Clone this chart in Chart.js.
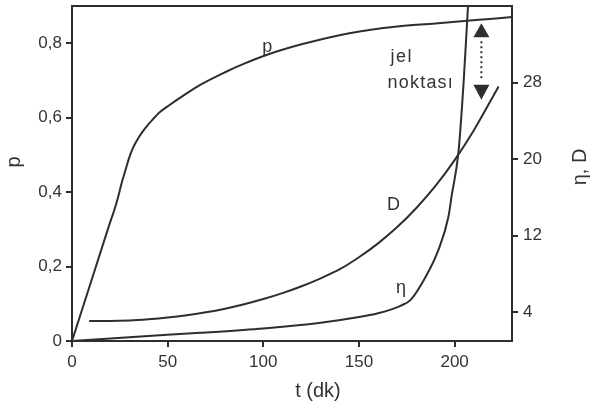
<!DOCTYPE html>
<html>
<head>
<meta charset="utf-8">
<script src="https://cdn.jsdelivr.net/npm/chart.js@4/dist/chart.umd.min.js"></script>
<style>
  html, body { margin: 0; padding: 0; background: #fff; }
  canvas { display: block; }
</style>
</head>
<body>
<canvas id="c" width="590" height="404"></canvas>
<script>
// Conversion p versus time t (dk)
const tP = [0, 5, 10, 15, 20, 22, 24, 26, 28, 30, 32, 35, 38, 42, 46, 51, 57, 67, 80, 90, 102, 120, 145, 170, 190, 205, 220, 231];
const pVals = [0, 0.08, 0.16, 0.24, 0.32, 0.35, 0.385, 0.425, 0.46, 0.494, 0.52, 0.548, 0.57, 0.594, 0.615, 0.634, 0.655, 0.688, 0.722, 0.745, 0.769, 0.797, 0.827, 0.845, 0.853, 0.86, 0.866, 0.871];

// D versus time (right axis)
const tD = [9, 20, 30, 40, 50, 60, 70, 80, 90, 100, 110, 120, 130, 140, 150, 160, 170, 180, 190, 200, 210, 223];
const dVals = [3.1, 3.1, 3.15, 3.28, 3.46, 3.7, 4.0, 4.38, 4.84, 5.38, 6.0, 6.72, 7.55, 8.5, 9.75, 11.2, 12.9, 14.9, 17.2, 19.9, 23.0, 27.6];

// Viscosity η versus time (right axis)
const tEta = [0, 30, 67, 100, 130, 150, 160, 167, 172, 177, 184, 191.5, 196.8, 198.4, 202, 204.7, 207];
const etaVals = [1.0, 1.4, 1.85, 2.3, 2.9, 3.5, 3.9, 4.3, 4.7, 5.3, 7.4, 10.5, 14.0, 16.1, 20.7, 28, 36];

// Tick labels
const xTicks = [0, 50, 100, 150, 200];
const pTicks = [0, 0.2, 0.4, 0.6, 0.8];
const rightTicks = [4, 12, 20, 28];

const INK = '#2e2e2e';
const TEXT = '#333333';
const FONT = '"Liberation Sans", Arial, sans-serif';

const toPoints = (xs, ys) => xs.map((x, i) => ({ x: x, y: ys[i] }));

// In-plot labels, positioned in data units
const curveLabels = [
  { text: 'p', x: 102, y: 0.79, axis: 'y', spacing: 0 },
  { text: 'D', x: 168, y: 15.2, axis: 'y2', spacing: 0 },
  { text: 'η', x: 172, y: 6.5, axis: 'y2', spacing: 0 },
  { text: 'jel', x: 172, y: 30.7, axis: 'y2', spacing: 1.5 },
  { text: 'noktası', x: 182, y: 27.9, axis: 'y2', spacing: 1.2 }
];

const lineStyle = {
  borderColor: INK,
  borderWidth: 2,
  pointRadius: 0,
  fill: false,
  cubicInterpolationMode: 'monotone'
};

const framePlugin = {
  id: 'frame',
  afterDraw(chart) {
    const ctx = chart.ctx;
    const a = chart.chartArea;
    const sx = chart.scales.x, sR = chart.scales.y2;
    ctx.save();
    // top edge of the frame
    ctx.strokeStyle = INK;
    ctx.lineWidth = 2;
    ctx.beginPath();
    ctx.moveTo(a.left - 1, a.top);
    ctx.lineTo(a.right + 1, a.top);
    ctx.stroke();

    // curve labels
    ctx.fillStyle = TEXT;
    ctx.textAlign = 'center';
    ctx.textBaseline = 'middle';
    ctx.font = '18px ' + FONT;
    curveLabels.forEach(l => {
      const sc = chart.scales[l.axis];
      ctx.letterSpacing = l.spacing + 'px';
      ctx.fillText(l.text, sx.getPixelForValue(l.x) + l.spacing / 2, sc.getPixelForValue(l.y));
    });
    ctx.letterSpacing = '0px';

    // gel point double arrow
    const ax = sx.getPixelForValue(214);
    const yTop = sR.getPixelForValue(34.2);
    const yBot = sR.getPixelForValue(26.2);
    ctx.fillStyle = INK;
    ctx.beginPath();
    ctx.moveTo(ax, yTop);
    ctx.lineTo(ax - 8, yTop + 14);
    ctx.lineTo(ax + 8, yTop + 14);
    ctx.closePath();
    ctx.fill();
    ctx.beginPath();
    ctx.moveTo(ax, yBot);
    ctx.lineTo(ax - 8, yBot - 15);
    ctx.lineTo(ax + 8, yBot - 15);
    ctx.closePath();
    ctx.fill();
    for (let y = yTop + 19; y <= yBot - 19; y += 5) {
      ctx.fillRect(ax - 1, y - 1, 2, 2);
    }

    // axis titles
    ctx.fillStyle = TEXT;
    ctx.font = '20px ' + FONT;
    ctx.fillText('t (dk)', 318, 391);
    ctx.save();
    ctx.translate(14, 162);
    ctx.rotate(-Math.PI / 2);
    ctx.fillText('p', 0, 0);
    ctx.restore();
    ctx.save();
    ctx.translate(580, 167);
    ctx.rotate(-Math.PI / 2);
    ctx.fillText('η, D', 0, 0);
    ctx.restore();
    ctx.restore();
  }
};

const tickFont = { family: FONT, size: 17 };
const axisGrid = { drawOnChartArea: false, drawTicks: true, tickLength: 6, color: INK, lineWidth: 2 };
const axisBorder = { display: true, color: INK, width: 2 };

// fixed axis band sizes, no extra label padding around the plot area
const fixBand = (prop, size) => s => {
  s[prop] = size;
  s.paddingTop = 0; s.paddingBottom = 0; s.paddingLeft = 0; s.paddingRight = 0;
};

new Chart(document.getElementById('c'), {
  type: 'line',
  data: {
    datasets: [
      Object.assign({ label: 'p', data: toPoints(tP, pVals), yAxisID: 'y' }, lineStyle),
      Object.assign({ label: 'D', data: toPoints(tD, dVals), yAxisID: 'y2' }, lineStyle),
      Object.assign({ label: 'η', data: toPoints(tEta, etaVals), yAxisID: 'y2' }, lineStyle)
    ]
  },
  options: {
    responsive: false,
    animation: false,
    devicePixelRatio: 1,
    layout: { padding: { top: 6, left: 0, right: 0, bottom: 0 } },
    plugins: { legend: { display: false }, tooltip: { enabled: false } },
    scales: {
      x: {
        type: 'linear',
        position: 'bottom',
        min: 0,
        max: 230,
        afterBuildTicks: s => { s.ticks = xTicks.map(v => ({ value: v })); },
        afterFit: fixBand('height', 63),
        ticks: { font: tickFont, color: TEXT, padding: 5, maxRotation: 0, autoSkip: false },
        grid: axisGrid,
        border: axisBorder
      },
      y: {
        type: 'linear',
        position: 'left',
        min: 0,
        max: 0.9,
        afterBuildTicks: s => { s.ticks = pTicks.map(v => ({ value: v })); },
        afterFit: fixBand('width', 72),
        ticks: {
          font: tickFont, color: TEXT, padding: 4, autoSkip: false,
          callback: v => v === 0 ? '0' : v.toFixed(1).replace('.', ',')
        },
        grid: axisGrid,
        border: axisBorder
      },
      y2: {
        type: 'linear',
        position: 'right',
        min: 1,
        max: 36,
        afterBuildTicks: s => { s.ticks = rightTicks.map(v => ({ value: v })); },
        afterFit: fixBand('width', 78),
        ticks: { font: tickFont, color: TEXT, padding: 5, autoSkip: false },
        grid: axisGrid,
        border: axisBorder
      }
    }
  },
  plugins: [framePlugin]
});
</script>
</body>
</html>
